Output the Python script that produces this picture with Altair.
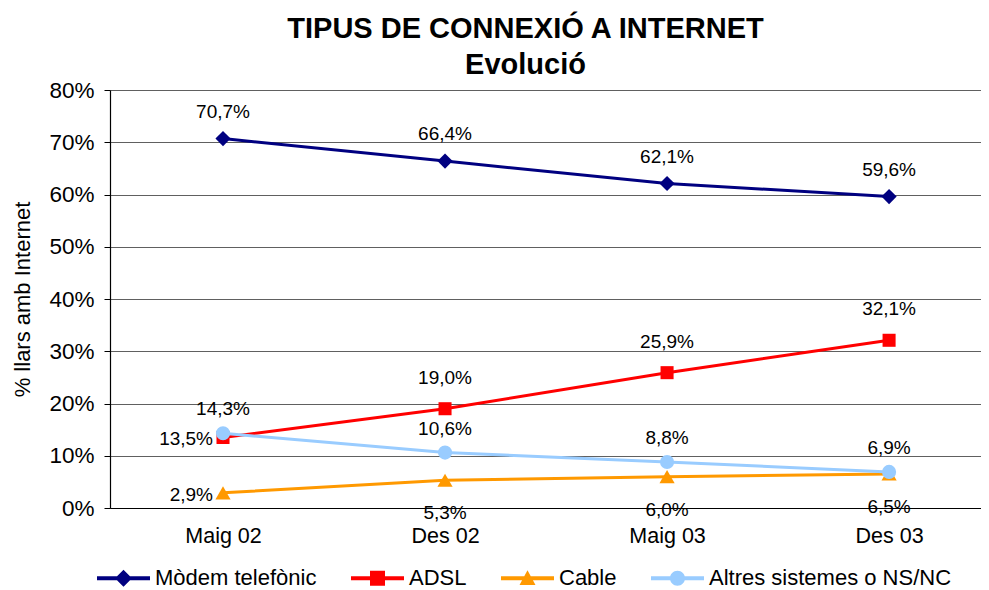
import json
import altair as alt
import pandas as pd

categories = ["Maig 02", "Des 02", "Maig 03", "Des 03"]
series_names = ["Mòdem telefònic", "ADSL", "Cable", "Altres sistemes o NS/NC"]
modem = [70.7, 66.4, 62.1, 59.6]
adsl = [13.5, 19.0, 25.9, 32.1]
cable = [2.9, 5.3, 6.0, 6.5]
altres = [14.3, 10.6, 8.8, 6.9]
y_ticks = [0, 10, 20, 30, 40, 50, 60, 70, 80]

values = [modem, adsl, cable, altres]
colors = ["#000080", "#FF0000", "#FF9900", "#99CCFF"]
shapes = ["diamond", "square", "triangle-up", "circle"]
sizes = [230, 170, 230, 200]
label_dy = [-27, -31, 33, -24]
first_left = [False, True, True, False]

rows = []
for s, vals in zip(series_names, values):
    for i, (c, v) in enumerate(zip(categories, vals)):
        rows.append({"serie": s, "idx": i, "cat": c, "val": v,
                     "lab": f"{v:.1f}".replace(".", ",") + "%"})
df = pd.DataFrame(rows)

FONT = "Liberation Sans"
cat_expr = json.dumps(categories) + "[datum.value]"
LBL = 19

xenc = alt.X("idx:Q", scale=alt.Scale(domain=[-0.509, 3.414], nice=False, zero=False),
             axis=alt.Axis(values=[0, 1, 2, 3], labelExpr=cat_expr, title=None, ticks=False,
                           grid=False, domainColor="black", domainWidth=1.2,
                           labelFontSize=21.5, labelFont=FONT, labelColor="black",
                           labelPadding=17))
yenc = alt.Y("val:Q", scale=alt.Scale(domain=[0, 80], nice=False),
             axis=alt.Axis(values=y_ticks, labelExpr="datum.value + '%'",
                           title="% llars amb Internet", titleFontSize=22, titleFont=FONT,
                           titleFontWeight="normal", titleColor="black",
                           titleX=-88, titleY=209, titleAngle=270, titleAlign="center",
                           titleBaseline="middle",
                           grid=True, gridColor="#606060", gridWidth=1,
                           tickSize=6, tickColor="black", domainColor="black", domainWidth=1.2,
                           labelFontSize=22.5, labelFont=FONT, labelColor="black",
                           labelPadding=10))

base = alt.Chart(df)
layers = []
for k, s in enumerate(series_names):
    sub = base.transform_filter(alt.datum.serie == s)
    line = sub.mark_line(color=colors[k], strokeWidth=3).encode(x=xenc, y=yenc)
    pts = sub.mark_point(shape=shapes[k], filled=True, color=colors[k], size=sizes[k],
                         opacity=1).encode(x="idx:Q", y="val:Q")
    layers += [line, pts]

for k, s in enumerate(series_names):
    sub = base.transform_filter(alt.datum.serie == s)
    if first_left[k]:
        t1 = sub.transform_filter(alt.datum.idx == 0).mark_text(
            font=FONT, fontSize=LBL, color="black", align="right", dx=-10, dy=2).encode(
            x="idx:Q", y="val:Q", text="lab:N")
        t2 = sub.transform_filter(alt.datum.idx > 0).mark_text(
            font=FONT, fontSize=LBL, color="black", align="center", dy=label_dy[k]).encode(
            x="idx:Q", y="val:Q", text="lab:N")
        layers += [t1, t2]
    else:
        t = sub.mark_text(font=FONT, fontSize=LBL, color="black", align="center",
                          dy=label_dy[k]).encode(x="idx:Q", y="val:Q", text="lab:N")
        layers.append(t)

R = 26.5
h = 2.0 / R
line_path = f"M-1,{-h} L1,{-h} L1,{h} L-1,{h} Z"
d = 8.5 / R
sq = 7.5 / R
tr = 8.0 / R
ci = 7.5 / R
leg_paths = [
    line_path + f" M0,{-d} L{d},0 L0,{d} L{-d},0 Z",
    line_path + f" M{-sq},{-sq} L{sq},{-sq} L{sq},{sq} L{-sq},{sq} Z",
    line_path + f" M0,{-tr} L{tr},{tr*0.85} L{-tr},{tr*0.85} Z",
    line_path + f" M{ci},0 A{ci},{ci} 0 1,1 {-ci},0 A{ci},{ci} 0 1,1 {ci},0 Z",
]

legend_layer = base.mark_point(filled=True, clip=True, opacity=1).encode(
    x=alt.value(-3000), y=alt.value(-3000),
    color=alt.Color("serie:N", scale=alt.Scale(domain=series_names, range=colors),
                    legend=alt.Legend(title=None, orient="none", direction="horizontal",
                                      legendX=-13, legendY=488 - R, symbolSize=R * R * 4,
                                      symbolOpacity=1, symbolStrokeWidth=0,
                                      labelFontSize=22, labelFont=FONT, labelColor="black",
                                      labelOffset=5, columnPadding=34, padding=0,
                                      labelLimit=400)),
    shape=alt.Shape("serie:N", scale=alt.Scale(domain=series_names, range=leg_paths)),
)
layers.append(legend_layer)

chart = alt.layer(*layers).properties(
    width=871, height=418,
    autosize=alt.AutoSizeParams(type="none"),
    padding={"left": 102, "top": 82, "right": 0, "bottom": 82},
    title=alt.TitleParams(text=["TIPUS DE CONNEXIÓ A INTERNET", "Evolució"],
                          font=FONT, fontSize=29, fontWeight="bold", color="black",
                          lineHeight=36, anchor="middle", dx=-20, dy=40, offset=10,
                          baseline="bottom"),
).configure_view(stroke=None).configure(background="white")

chart.save("out.html", embed_options={"renderer": "svg", "actions": False})
